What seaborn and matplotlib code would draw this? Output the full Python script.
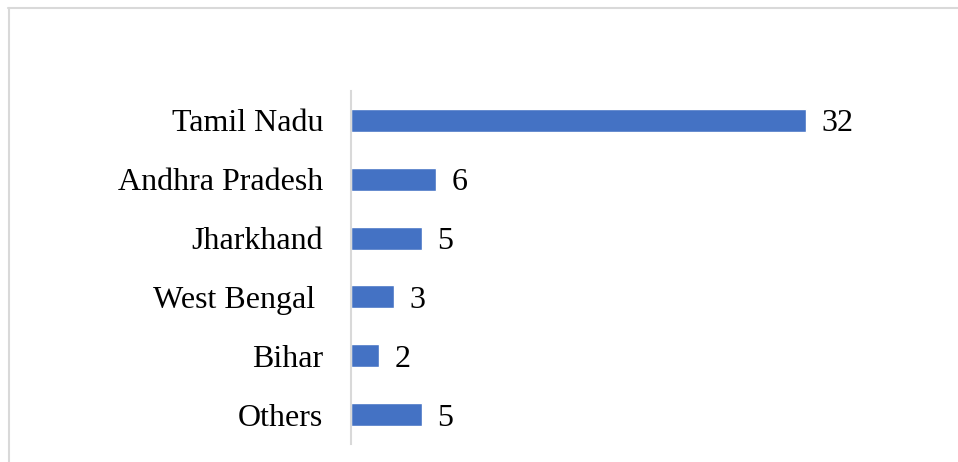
import matplotlib
matplotlib.use("Agg")
import matplotlib.pyplot as plt
from matplotlib.lines import Line2D
import seaborn as sns
import pandas as pd

states = ["Tamil Nadu", "Andhra Pradesh", "Jharkhand", "West Bengal ", "Bihar", "Others"]
counts = [32, 6, 5, 3, 2, 5]

df = pd.DataFrame({"state": states, "count": counts})

sns.set_style("white")
plt.rcParams["font.family"] = ["Liberation Serif", "DejaVu Serif"]

fig = plt.figure(figsize=(9.58, 4.62), dpi=100)
ax = fig.add_axes([351 / 958, 1 - 444 / 462, (920 - 351) / 958, (444 - 91) / 462])

sns.barplot(data=df, x="count", y="state", orient="h", color="#4472C4",
            width=0.39, saturation=1, ax=ax)

ax.set_xlim(0, 40)
ax.set_ylim(5.5, -0.5)
ax.set_xlabel("")
ax.set_ylabel("")
ax.set_xticks([])
ax.tick_params(axis="y", length=0, pad=20, labelsize=23, labelcolor="#000000")

for side in ["top", "right", "bottom"]:
    ax.spines[side].set_visible(False)
ax.spines["left"].set_color("#d9d9d9")
ax.spines["left"].set_linewidth(1.5)

for container in ax.containers:
    texts = ax.bar_label(container, labels=[str(v) for v in counts], padding=11,
                         fontsize=23, color="#000000")
    for t in texts:
        t.set_va("center_baseline")

# light frame around the chart area
fig.add_artist(Line2D([8 / 958, 1.0], [1 - 7.5 / 462] * 2, color="#d9d9d9",
                      lw=1.5, transform=fig.transFigure))
fig.add_artist(Line2D([8.5 / 958] * 2, [0, 1 - 7.5 / 462], color="#d9d9d9",
                      lw=1.5, transform=fig.transFigure))

fig.savefig("out.png", dpi=100, facecolor="white")
